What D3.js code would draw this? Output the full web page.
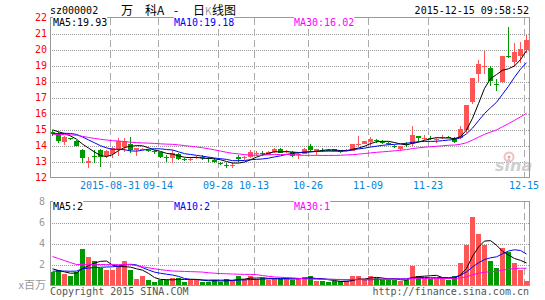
<!DOCTYPE html>
<html>
<head>
<meta charset="utf-8">
<script src="https://cdn.jsdelivr.net/npm/d3@7"></script>
<style>
    html, body { margin: 0; padding: 0; background: #fff; }
    svg { display: block; }
    text { font-family: "DejaVu Sans Mono", monospace; font-size: 10px; }
</style>
</head>
<body>
<div id="kline_chart"></div>
<script>
// trading days shown on the chart
const dates = [
    "2015-08-17", "2015-08-18", "2015-08-19", "2015-08-20", "2015-08-21", "2015-08-24", "2015-08-25", "2015-08-26", "2015-08-27", "2015-08-28",
    "2015-08-31", "2015-09-01", "2015-09-02", "2015-09-07", "2015-09-08", "2015-09-09", "2015-09-10", "2015-09-11", "2015-09-14", "2015-09-15",
    "2015-09-16", "2015-09-17", "2015-09-18", "2015-09-21", "2015-09-22", "2015-09-23", "2015-09-24", "2015-09-25", "2015-09-28", "2015-09-29",
    "2015-09-30", "2015-10-08", "2015-10-09", "2015-10-12", "2015-10-13", "2015-10-14", "2015-10-15", "2015-10-16", "2015-10-19", "2015-10-20",
    "2015-10-21", "2015-10-22", "2015-10-23", "2015-10-26", "2015-10-27", "2015-10-28", "2015-10-29", "2015-10-30", "2015-11-02", "2015-11-03",
    "2015-11-04", "2015-11-05", "2015-11-06", "2015-11-09", "2015-11-10", "2015-11-11", "2015-11-12", "2015-11-13", "2015-11-16", "2015-11-17",
    "2015-11-18", "2015-11-19", "2015-11-20", "2015-11-23", "2015-11-24", "2015-11-25", "2015-11-26", "2015-11-27", "2015-11-30", "2015-12-01",
    "2015-12-02", "2015-12-03", "2015-12-04", "2015-12-07", "2015-12-08", "2015-12-09", "2015-12-10", "2015-12-11", "2015-12-14", "2015-12-15"
];

const opens = [
    14.86, 14.71, 14.22, 14.45, 14.28, 13.73, 12.88, 13.36, 13.72, 13.37,
    13.46, 13.73, 13.88, 14.10, 13.73, 13.77, 13.72, 13.68, 13.58, 13.27,
    13.21, 13.46, 13.17, 13.13, 13.20, 13.29, 13.20, 13.12, 12.92, 12.77,
    12.76, 13.31, 13.25, 13.31, 13.53, 13.54, 13.42, 13.62, 13.80, 13.60,
    13.62, 13.47, 13.47, 13.98, 13.62, 13.70, 13.74, 13.78, 13.65, 13.68,
    13.66, 14.06, 14.12, 14.22, 14.35, 14.23, 14.15, 13.99, 13.77, 14.07,
    14.08, 14.60, 14.43, 14.47, 14.38, 14.51, 14.55, 14.45, 14.49, 14.95,
    16.75, 18.48, 18.94, 18.83, 17.86, 17.94, 19.62, 19.20, 19.60, 19.94
];
const highs = [
    14.98, 14.82, 14.60, 14.50, 14.35, 13.80, 13.31, 13.73, 13.76, 13.75,
    13.92, 14.45, 14.46, 14.55, 13.86, 13.86, 13.80, 13.70, 13.60, 13.42,
    13.73, 13.55, 13.25, 13.30, 13.35, 13.40, 13.30, 13.20, 13.00, 12.90,
    12.92, 13.40, 13.35, 13.70, 13.68, 13.63, 13.65, 13.84, 13.84, 13.70,
    13.68, 13.56, 13.82, 14.09, 13.78, 13.85, 13.78, 13.80, 13.68, 13.76,
    14.12, 14.60, 14.29, 14.55, 14.39, 14.33, 14.23, 14.03, 13.99, 14.23,
    15.25, 14.61, 14.66, 14.58, 14.49, 14.66, 14.58, 14.55, 15.23, 16.52,
    18.22, 19.36, 19.90, 18.98, 18.15, 19.60, 21.40, 20.40, 20.50, 20.92
];
const lows = [
    14.62, 14.13, 14.04, 14.36, 13.95, 12.90, 12.59, 12.90, 12.65, 13.20,
    13.20, 13.35, 13.60, 13.55, 13.33, 13.70, 13.60, 13.45, 13.20, 12.94,
    12.90, 13.10, 13.05, 13.05, 13.15, 13.12, 13.00, 12.92, 12.80, 12.62,
    12.62, 13.00, 13.12, 13.22, 13.36, 13.36, 13.40, 13.56, 13.52, 13.55,
    13.30, 13.17, 13.45, 13.58, 13.40, 13.60, 13.65, 13.65, 13.55, 13.65,
    13.63, 13.95, 14.08, 13.98, 14.13, 14.08, 14.03, 13.87, 13.66, 13.91,
    13.99, 14.20, 14.33, 14.35, 14.13, 14.43, 14.45, 14.18, 14.43, 14.80,
    16.60, 18.00, 18.50, 17.69, 17.40, 17.90, 19.50, 18.94, 19.15, 19.77
];
const closes = [
    14.75, 14.29, 14.54, 14.40, 14.00, 13.22, 13.04, 13.31, 13.31, 13.65,
    13.84, 14.29, 14.29, 13.69, 13.84, 13.80, 13.68, 13.57, 13.27, 13.22,
    13.56, 13.15, 13.13, 13.17, 13.30, 13.25, 13.15, 12.96, 12.89, 12.74,
    12.79, 13.13, 13.28, 13.60, 13.56, 13.50, 13.62, 13.76, 13.56, 13.64,
    13.36, 13.50, 13.80, 13.75, 13.76, 13.67, 13.70, 13.68, 13.62, 13.72,
    14.08, 14.10, 14.26, 14.43, 14.31, 14.19, 14.11, 13.89, 13.97, 14.03,
    14.68, 14.48, 14.47, 14.43, 14.41, 14.55, 14.51, 14.24, 15.02, 16.52,
    18.22, 19.10, 18.98, 18.05, 17.80, 19.60, 19.55, 19.85, 20.05, 20.60
];
// volume in millions (x百万)
const volumes = [
    1.27, 1.49, 1.05, 0.86, 1.27, 3.43, 2.76, 2.38, 1.65, 1.43,
    1.52, 2.00, 2.38, 1.43, 0.63, 0.86, 0.48, 0.38, 0.54, 0.54,
    0.73, 0.73, 0.38, 0.54, 0.54, 0.38, 0.38, 0.48, 0.38, 0.63,
    0.54, 0.86, 0.63, 0.86, 0.63, 0.73, 0.54, 0.60, 0.63, 0.73,
    0.54, 0.73, 0.79, 0.86, 0.41, 0.41, 0.29, 0.41, 0.41, 0.41,
    0.86, 0.95, 0.48, 0.86, 0.73, 0.54, 0.54, 0.54, 0.41, 0.54,
    1.81, 0.95, 0.73, 0.63, 0.73, 0.73, 0.48, 0.95, 2.13, 3.81,
    6.50, 4.92, 3.81, 2.32, 1.65, 3.59, 3.17, 2.13, 1.43, 0.41
];
// sessions before the first candle, estimated from where the MA lines start
const priorCloses = [
    14.60, 14.75, 14.90, 15.00, 15.10, 15.20, 15.10, 14.95, 15.00, 15.00,
    15.15, 15.10, 15.02, 14.60, 14.30, 14.10, 14.06, 14.10, 13.80, 13.88,
    14.20, 14.40, 14.50, 14.60, 14.80, 14.90, 15.10, 15.15, 15.00
];
const priorVolumes = [
    7.20, 6.90, 6.80, 6.57, 3.10, 2.80, 2.50, 1.90, 1.60, 1.70,
    2.00, 2.10, 1.28, 4.10, 3.80, 3.50, 3.20, 3.00, 2.70, 2.45,
    1.30, 1.10, 1.00, 1.15, 1.10, 2.30, 1.70, 1.50, 1.18
];

const tickDates = ["2015-08-31", "2015-09-14", "2015-09-28", "2015-10-13", "2015-10-26", "2015-11-09", "2015-11-23", "2015-12-15"];
const priceTicks = [12, 13, 14, 15, 16, 17, 18, 19, 20, 21, 22];
const volumeTicks = [2, 4, 6, 8];
const maPeriods = [5, 10, 30];

const UP = "#ff5555", DOWN = "#009900";
const MA_COLORS = ["#000000", "#0000ff", "#ff00ff"];

const width = 545, height = 300;
const left = 50, right = 530;

const svg = d3.select('#kline_chart').append('svg')
    .attr('width', width)
    .attr('height', height);

const x = d3.scaleBand().domain(dates).range([left, right]);
const y = d3.scaleLinear().domain([12, 22]).range([177.5, 17.5]);
const yv = d3.scaleLinear().domain([0, 8]).range([285.5, 201.5]);

const movingAverage = (values, prior, n) => {
    const all = prior.concat(values);
    return values.map((v, i) => d3.mean(all.slice(prior.length + i - n + 1, prior.length + i + 1)));
};
const priceMA = maPeriods.map(n => movingAverage(closes, priorCloses, n));
const volumeMA = maPeriods.map(n => movingAverage(volumes, priorVolumes, n));

const candles = dates.map((d, i) => ({
    date: d, open: opens[i], high: highs[i], low: lows[i], close: closes[i], volume: volumes[i]
}));
const colorOf = d => d.close >= d.open ? UP : DOWN;

// header
svg.append('text').attr('x', 50).attr('y', 14).text('sz000002');
const titleParts = [
    { text: '万', x: 121, color: '#000', size: 12 },
    { text: '科A', x: 145, color: '#000', size: 12 },
    { text: '-', x: 174, color: '#000', size: 12 },
    { text: '日', x: 193, color: '#000', size: 12 },
    { text: 'K', x: 205, color: '#999', size: 10 },
    { text: '线图', x: 212, color: '#000', size: 12 }
];
svg.append('g').selectAll('text')
    .data(titleParts)
    .enter()
    .append('text')
    .attr('x', d => d.x)
    .attr('y', 15)
    .attr('fill', d => d.color)
    .style('font-family', '"Noto Sans CJK SC", sans-serif')
    .style('font-size', d => d.size + 'px')
    .text(d => d.text);
svg.append('text').attr('x', 529).attr('y', 14).attr('text-anchor', 'end').text('2015-12-15 09:58:52');

// horizontal grid
svg.append('g')
    .attr('transform', `translate(${left},0)`)
    .call(d3.axisLeft(y).tickValues(priceTicks.slice(1, -1)).tickSize(-(right - left)).tickFormat(''))
    .call(g => g.select('.domain').remove())
    .selectAll('line')
    .attr('stroke', '#999')
    .attr('stroke-dasharray', '1,1')
    .attr('shape-rendering', 'crispEdges');

svg.append('g')
    .attr('transform', `translate(${left},0)`)
    .call(d3.axisLeft(yv).tickValues(volumeTicks.slice(0, -1)).tickSize(-(right - left)).tickFormat(''))
    .call(g => g.select('.domain').remove())
    .selectAll('line')
    .attr('stroke', '#999')
    .attr('stroke-dasharray', '1,1')
    .attr('shape-rendering', 'crispEdges');

// vertical dashed lines through both panels
[[17.5, 177.5], [201.5, 285.5]].forEach(([top, bottom]) => {
    svg.append('g')
        .selectAll('line')
        .data(tickDates)
        .enter()
        .append('line')
        .attr('x1', d => x(d) + 0.5)
        .attr('x2', d => x(d) + 0.5)
        .attr('y1', top)
        .attr('y2', bottom)
        .attr('stroke', '#aaa')
        .attr('stroke-dasharray', '7,4')
        .attr('shape-rendering', 'crispEdges');
});

// price axis labels
svg.append('g')
    .attr('transform', `translate(${left - 3},0)`)
    .call(d3.axisLeft(y).tickValues(priceTicks).tickSize(0).tickPadding(0))
    .call(g => g.select('.domain').remove())
    .selectAll('text')
    .attr('fill', '#ff0000')
    .style('font-family', '"DejaVu Sans Mono", monospace')
    .style('font-size', '10px');

svg.append('g')
    .attr('transform', `translate(${left - 5},0)`)
    .call(d3.axisLeft(yv).tickValues(volumeTicks).tickSize(0).tickPadding(0))
    .call(g => g.select('.domain').remove())
    .selectAll('text')
    .attr('fill', '#999')
    .style('font-family', '"DejaVu Sans Mono", monospace')
    .style('font-size', '10px');

svg.append('text')
    .attr('x', left - 4)
    .attr('y', 289)
    .attr('text-anchor', 'end')
    .attr('fill', '#999')
    .style('font-family', '"Noto Sans CJK SC", sans-serif')
    .style('font-size', '11px')
    .text('x百万');

// date labels
svg.append('g')
    .attr('transform', `translate(${-x.bandwidth() / 2},178)`)
    .call(d3.axisBottom(x).tickValues(tickDates).tickSize(0).tickPadding(4)
        .tickFormat((d, i) => i === 0 ? d : d.slice(5)))
    .call(g => g.select('.domain').remove())
    .selectAll('text')
    .attr('fill', '#0a84d6')
    .style('font-family', '"DejaVu Sans Mono", monospace')
    .style('font-size', '10px');

// sina watermark
const mark = svg.append('g');
mark.append('circle').attr('cx', 509).attr('cy', 157).attr('r', 4.5)
    .attr('fill', 'none').attr('stroke', '#f3c0c0').attr('stroke-width', 2);
mark.append('circle').attr('cx', 509).attr('cy', 157).attr('r', 1.5).attr('fill', '#e8a0a0');
mark.append('text').attr('x', 495).attr('y', 171)
    .attr('fill', '#cfcfcf')
    .style('font-family', '"DejaVu Sans", sans-serif')
    .style('font-size', '16px')
    .style('font-style', 'italic')
    .style('font-weight', 'bold')
    .text('sina');

// candles
const candle = svg.append('g').selectAll('g')
    .data(candles)
    .enter()
    .append('g')
    .attr('shape-rendering', 'crispEdges');

candle.append('line')
    .attr('x1', d => x(d.date) + 2.5)
    .attr('x2', d => x(d.date) + 2.5)
    .attr('y1', d => y(d.high))
    .attr('y2', d => y(d.low))
    .attr('stroke', colorOf);

candle.append('rect')
    .attr('x', d => x(d.date))
    .attr('width', 5)
    .attr('y', d => y(Math.max(d.open, d.close)))
    .attr('height', d => Math.max(1, Math.abs(y(d.open) - y(d.close))))
    .attr('fill', colorOf);

// volume bars
svg.append('g').selectAll('rect')
    .data(candles)
    .enter()
    .append('rect')
    .attr('x', d => x(d.date))
    .attr('width', 5)
    .attr('y', d => yv(d.volume))
    .attr('height', d => yv(0) - yv(d.volume))
    .attr('fill', colorOf)
    .attr('shape-rendering', 'crispEdges');

// moving average lines
const drawLines = (series, scale) => {
    series.forEach((values, k) => {
        svg.append('path')
            .datum(values)
            .attr('fill', 'none')
            .attr('stroke', MA_COLORS[k])
            .attr('stroke-width', 1)
            .attr('d', d3.line()
                .x((v, i) => x(dates[i]) + 2.5)
                .y(v => scale(v)));
    });
};
drawLines(priceMA, y);
drawLines(volumeMA, yv);

// frames
[[17.5, 177.5], [201.5, 285.5]].forEach(([top, bottom]) => {
    svg.append('rect')
        .attr('x', left + 0.5)
        .attr('y', top)
        .attr('width', right - left - 1)
        .attr('height', bottom - top)
        .attr('fill', 'none')
        .attr('stroke', '#999')
        .attr('shape-rendering', 'crispEdges');
});

// legends, on a white backing so the grid doesn't run through them
const legendX = [53, 174, 294];
const addLegend = (lx, ly, color, label) => {
    const g = svg.append('g');
    const t = g.append('text')
        .attr('x', lx)
        .attr('y', ly)
        .attr('fill', color)
        .text(label);
    const box = t.node().getBBox();
    g.insert('rect', 'text')
        .attr('x', box.x)
        .attr('y', box.y)
        .attr('width', box.width)
        .attr('height', box.height)
        .attr('fill', '#fff');
};
maPeriods.forEach((n, k) => {
    const last = priceMA[k][priceMA[k].length - 1];
    addLegend(legendX[k], 26, MA_COLORS[k], `MA${n}:${last.toFixed(2)}`);
    const lastVol = volumeMA[k][volumeMA[k].length - 1];
    addLegend(legendX[k], 210, MA_COLORS[k], `MA${n}:${Math.floor(lastVol)}`);
});

// footer
svg.append('text').attr('x', 50).attr('y', 295).attr('fill', '#555').text('Copyright 2015 SINA.COM');
svg.append('text').attr('x', 529).attr('y', 295).attr('text-anchor', 'end').attr('fill', '#555')
    .text('http://finance.sina.com.cn');
</script>
</body>
</html>
